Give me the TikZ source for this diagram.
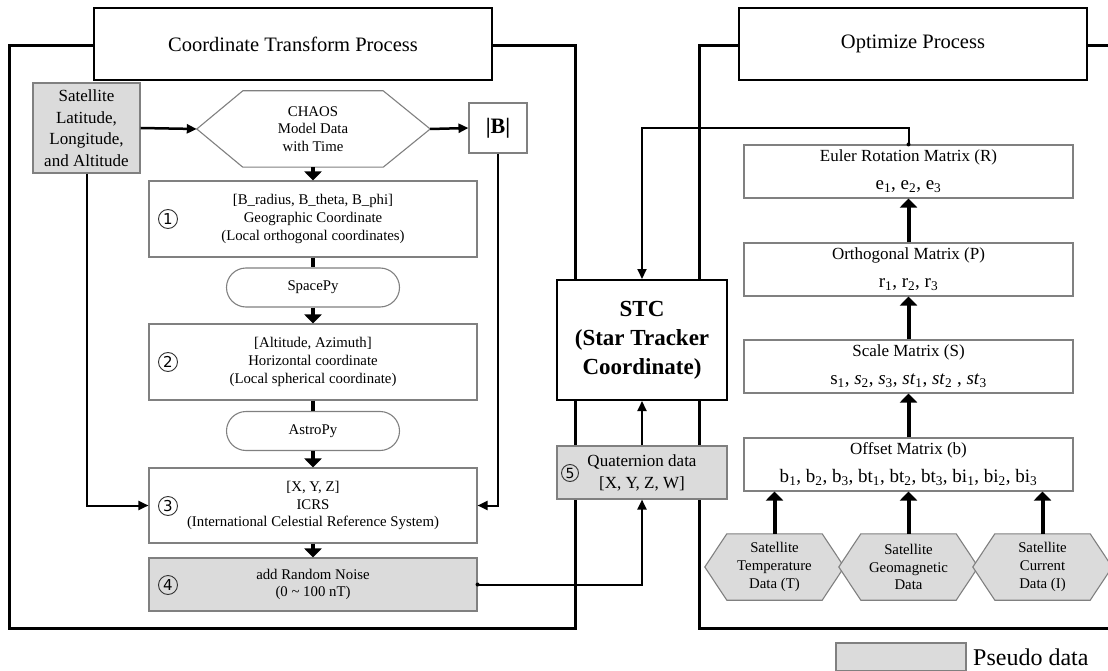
\documentclass[tikz,border=0pt]{standalone}
\usepackage{fontspec}
\setmainfont{Liberation Serif}
\newfontfamily\dejavu{DejaVu Sans}
\usetikzlibrary{arrows.meta,shapes.misc,calc,backgrounds}
\newcommand{\fs}[2]{\fontsize{#1}{#2}\selectfont}
\newcommand{\sbs}[1]{\textsubscript{#1}}
\begin{document}
\begin{tikzpicture}[x=1pt,y=-1pt,
  frame/.style={line width=3pt},
  ttl/.style={draw, line width=2pt, fill=white, minimum width=398pt, minimum height=72pt, inner sep=0pt, font=\fs{20.5}{24}},
  bx/.style={draw=black!50, line width=1.1pt, fill=white, inner sep=0pt, align=center, font=\fs{14.8}{17.8}},
  pseudo/.style={fill=black!14},
  pill/.style={bx, rounded rectangle, minimum width=173pt, minimum height=39pt},
  hexin/.style={inner sep=0pt, align=center, font=\fs{14.8}{17.8}},
  hexline/.style={draw=black!50, line width=1.1pt},
  bigarrow/.style={line width=4pt, -{Triangle[width=17pt,length=9pt]}},
  bigline/.style={line width=4pt},
  tarrow/.style={line width=2pt, -{Triangle[width=9pt,length=10pt]}},
  num/.style={circle, draw=black!80, line width=0.9pt, minimum size=19pt, inner sep=0pt, font=\dejavu\fs{15}{15}},
  mbox/.style={bx, minimum width=329pt, minimum height=53pt, font=\fs{17}{20}}
]
\useasboundingbox (0,0) rectangle (1108,671);
% frames
\draw[frame] (9,46) rectangle (575,628);
\draw[frame] (1120,46) -- (699,46) -- (699,628) -- (1120,628);
\node[ttl] (t1) at (293,44) {Coordinate Transform Process};
\node[ttl, minimum width=348pt] (t2) at (913,44) {Optimize Process};

% left column
\node[bx, pseudo, minimum width=107pt, minimum height=90pt, font=\fs{17}{21.5}] (sat) at (86.5,128) {Satellite\\Latitude,\\Longitude,\\and Altitude};
\node[hexin, minimum width=140pt, minimum height=76pt] (chaos) at (313,129) {CHAOS\\Model Data\\with Time};
\coordinate (chaosL) at ($(chaos.west)+(-46,0)$);
\coordinate (chaosR) at ($(chaos.east)+(47,0)$);
\begin{scope}[on background layer]
\filldraw[hexline, fill=white] (chaos.north west) -- (chaos.north east) -- (chaosR) -- (chaos.south east) -- (chaos.south west) -- (chaosL) -- cycle;
\end{scope}
\node[bx, minimum width=58pt, minimum height=50pt, font=\bfseries\fs{22}{24}] (B) at (498,128) {|B|};

\node[bx, minimum width=328pt, minimum height=76pt] (box1) at (313,219) {[B\_radius, B\_theta, B\_phi]\\Geographic Coordinate\\(Local orthogonal coordinates)};
\node[pill] (spacepy) at (313,287.5) {SpacePy};
\node[bx, minimum width=328pt, minimum height=76pt] (box2) at (313,362) {[Altitude, Azimuth]\\Horizontal coordinate\\(Local spherical coordinate)};
\node[pill] (astropy) at (313,431) {AstroPy};
\node[bx, minimum width=328pt, minimum height=75pt] (box3) at (313,505.5) {[X, Y, Z]\\ICRS\\(International Celestial Reference System)};
\node[bx, pseudo, minimum width=328pt, minimum height=53pt] (box4) at (313,584.5) {add Random Noise\\(0 \textasciitilde{} 100 nT)};
\node[num] (n1) at (168,219) {1};
\node[num] (n2) at (168,362) {2};
\node[num] (n3) at (168,506) {3};
\node[num] (n4) at (168,585) {4};

% middle
\node[bx, draw=black, line width=2pt, minimum width=170pt, minimum height=120pt, font=\bfseries\fs{23}{29}] (stc) at (642,340) {STC\\(Star Tracker\\Coordinate)};
\node[bx, pseudo, minimum width=170pt, minimum height=53pt, font=\fs{17}{22}] (quat) at (642,472.5) {Quaternion data\\{}[X, Y, Z, W]};
\node[num, minimum size=17pt, font=\dejavu\fs{14}{14}] (n5) at (570,473) {5};

% right column
\node[mbox] (euler) at (908.5,171.5) {Euler Rotation Matrix (R)\\[8pt]{\fs{19}{20}e\sbs{1}, e\sbs{2}, e\sbs{3}}};
\node[mbox] (orth) at (908.5,269.5) {Orthogonal Matrix (P)\\[8pt]{\fs{19}{20}r\sbs{1}, r\sbs{2}, r\sbs{3}}};
\node[mbox] (scale) at (908.5,366.5) {Scale Matrix (S)\\[8pt]{\fs{19}{20}s\sbs{1}, \textit{s}\sbs{2}, \textit{s}\sbs{3}, \textit{st}\sbs{1}, \textit{st}\sbs{2} , \textit{st}\sbs{3}}};
\node[mbox] (offset) at (908.5,464.5) {Offset Matrix (b)\\[8pt]{\fs{19}{20}b\sbs{1}, b\sbs{2}, b\sbs{3}, bt\sbs{1}, bt\sbs{2}, bt\sbs{3}, bi\sbs{1}, bi\sbs{2}, bi\sbs{3}}};

\node[hexin, minimum width=95pt, minimum height=66pt] (h1) at (774.5,567) {Satellite\\Temperature\\Data (T)};
\node[hexin, minimum width=95pt, minimum height=66pt] (h2) at (908.5,567) {Satellite\\Geomagnetic\\Data};
\node[hexin, minimum width=95pt, minimum height=66pt] (h3) at (1042.5,567) {Satellite\\Current\\Data (I)};
\begin{scope}[on background layer]
\foreach \h in {h1,h2,h3}{
  \filldraw[hexline, fill=black!14] (\h.north west) -- (\h.north east) -- ($(\h.east)+(22,0)$) -- (\h.south east) -- (\h.south west) -- ($(\h.west)+(-22,0)$) -- cycle;
}
\end{scope}

% legend
\node[bx, pseudo, minimum width=130pt, minimum height=28pt] (leg) at (901,657) {};
\node[anchor=west, inner sep=0pt, font=\fs{24}{28}] (legt) at (973,657) {Pseudo data};

% connectors
\draw[tarrow, line width=2.5pt] (sat.east) -- (chaosL);
\draw[tarrow, line width=2.5pt] (chaosR) -- (B.west);
\draw[bigarrow] (chaos.south) -- (box1.north);
\draw[bigline] (box1.south) -- (spacepy.north);
\draw[bigarrow] (spacepy.south) -- (box2.north);
\draw[bigline] (box2.south) -- (astropy.north);
\draw[bigarrow] (astropy.south) -- (box3.north);
\draw[bigarrow] (box3.south) -- (box4.north);
\draw[tarrow] (sat.south) |- (box3.west);
\draw[tarrow] (B.south) |- (box3.east);
\draw[tarrow] (box4.east) -| (quat.south);
\fill (box4.east) circle (2);
\draw[tarrow] (quat.north) -- (stc.south);
\draw[tarrow] (euler.north) -- ++(0,-16) -| (stc.north);
\fill (euler.north) circle (2);
\draw[bigarrow] (orth.north) -- (euler.south);
\draw[bigarrow] (scale.north) -- (orth.south);
\draw[bigarrow] (offset.north) -- (scale.south);
\draw[bigarrow] (h1.north) -- (h1.north |- offset.south);
\draw[bigarrow] (h2.north) -- (h2.north |- offset.south);
\draw[bigarrow] (h3.north) -- (h3.north |- offset.south);
\end{tikzpicture}
\end{document}
